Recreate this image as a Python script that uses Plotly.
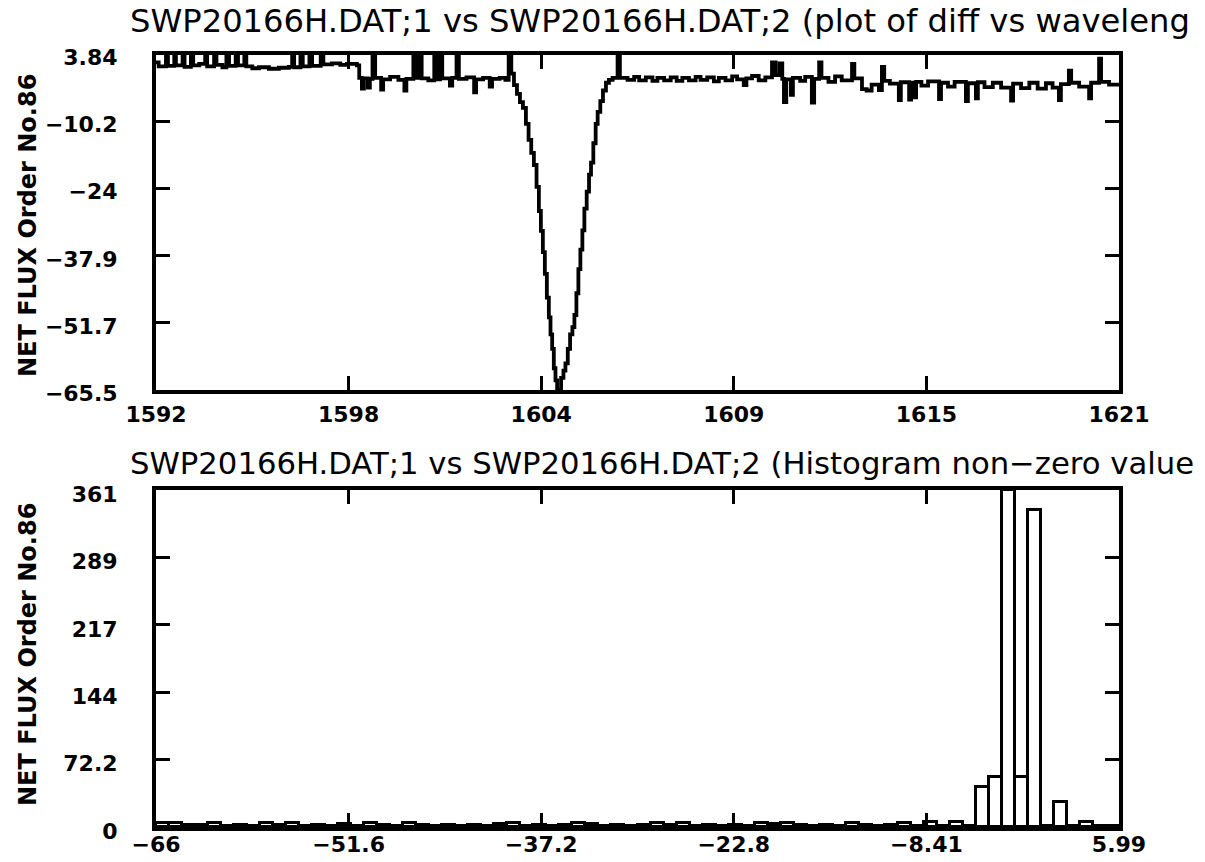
import numpy as np
import plotly.graph_objects as go

# ---------------- upper panel: difference vs wavelength ----------------
wave = [
    1592.00, 1592.08, 1592.30, 1592.36, 1592.55, 1592.60, 1592.80, 1592.86, 1593.05, 1593.12,
    1593.30, 1593.48, 1593.54, 1593.75, 1593.82, 1594.00, 1594.12, 1594.20, 1594.40, 1594.47,
    1594.66, 1594.72, 1594.90, 1595.10, 1595.40, 1595.70, 1596.00, 1596.10, 1596.16, 1596.35,
    1596.42, 1596.62, 1596.70, 1596.96, 1597.04, 1597.30, 1597.55, 1597.75, 1598.05,
    1598.12, 1598.20, 1598.26, 1598.38, 1598.44, 1598.52, 1598.60, 1598.78, 1598.84, 1599.05,
    1599.30, 1599.48, 1599.54, 1599.75, 1599.82, 1599.92, 1600.00, 1600.20, 1600.38, 1600.45,
    1600.55, 1600.62, 1600.85, 1600.92, 1601.05, 1601.12, 1601.35, 1601.58, 1601.64, 1601.85,
    1602.05, 1602.12, 1602.35, 1602.52, 1602.62, 1602.70,
    1602.78, 1602.87, 1602.96, 1603.05, 1603.14, 1603.22, 1603.30, 1603.38, 1603.46, 1603.53,
    1603.59, 1603.65, 1603.71, 1603.77, 1603.83, 1603.88, 1603.93, 1603.98, 1604.03, 1604.08,
    1604.14, 1604.20, 1604.27, 1604.33, 1604.40, 1604.47, 1604.54, 1604.60, 1604.66, 1604.72,
    1604.78, 1604.84, 1604.90, 1604.97, 1605.04, 1605.10, 1605.17, 1605.24, 1605.30, 1605.38,
    1605.46, 1605.55, 1605.64, 1605.75, 1605.90, 1605.97,
    1606.20, 1606.40, 1606.55, 1606.75, 1606.95, 1607.10, 1607.30, 1607.50, 1607.68, 1607.85,
    1608.05, 1608.25, 1608.40, 1608.60, 1608.80, 1608.95, 1609.15, 1609.35, 1609.50, 1609.70,
    1609.78, 1609.95, 1610.15, 1610.35, 1610.55, 1610.66, 1610.78, 1610.86, 1610.91, 1610.98,
    1611.12, 1611.18, 1611.40, 1611.55, 1611.75, 1611.82, 1611.97, 1612.04, 1612.25, 1612.45,
    1612.65, 1612.96, 1613.03, 1613.26, 1613.40, 1613.55, 1613.77, 1613.86, 1613.93, 1614.10,
    1614.37, 1614.43, 1614.68, 1614.74, 1614.83, 1614.89, 1615.05, 1615.25, 1615.58, 1615.64,
    1615.85, 1616.05, 1616.39, 1616.45, 1616.69, 1616.75, 1616.95, 1617.20, 1617.45, 1617.75,
    1617.81, 1618.05, 1618.30, 1618.55, 1618.80, 1619.00, 1619.19, 1619.25, 1619.49, 1619.56,
    1619.80, 1620.10, 1620.16, 1620.40, 1620.46, 1620.70, 1621.00,
]
diff = [
    2.2, 1.4, 3.6, 1.5, 3.7, 1.6, 3.5, 1.3, 3.7, 1.6,
    1.9, 3.6, 1.4, 3.8, 1.7, 1.2, 3.6, 1.5, 3.7, 1.6,
    3.5, 1.4, 1.0, 1.2, 0.9, 1.1, 1.3, 3.7, 1.2, 3.6,
    1.4, 3.8, 1.5, 3.84, 1.8, 2.0, 1.7, 1.9, 1.6,
    -1.0, -3.2, -1.1, -3.0, -1.2, 3.84, -1.0, -3.4, -1.3, -0.8,
    -1.4, -3.6, -1.2, 3.84, -1.0, 3.7, -1.1, -1.5, 3.84, -1.3,
    3.6, -1.1, -2.6, -1.0, 3.84, -1.2, -0.9, -4.0, -1.3, -1.0,
    -2.8, -1.2, -1.0, -1.4, 3.6, -0.1,
    -2.5, -4.3, -6.0, -7.2, -10.5, -13.8, -16.5, -19.0, -23.5, -28.5,
    -32.6, -37.0, -41.5, -46.4, -50.5, -54.0, -57.0, -61.0, -63.5, -65.5,
    -65.5, -63.0, -61.5, -60.0, -57.0, -54.0, -52.5, -50.0, -45.5, -40.5,
    -36.5, -32.5, -28.0, -24.5, -21.0, -18.5, -14.5, -10.5, -8.0, -5.8,
    -3.6, -2.0, -1.4, -1.0, 3.84, -1.0,
    -1.4, -0.8, -1.5, -0.9, -1.6, -1.0, -1.5, -0.9, -1.6, -1.0,
    -1.5, -0.8, -1.4, -0.9, -1.7, -1.0, -1.5, -0.7, -1.3, -2.5,
    -1.1, -0.6, -1.5, -0.9, 2.2, -0.4, 2.0, -1.2, -6.0, -1.3,
    -4.5, -1.0, -1.6, -0.8, -6.1, -1.2, 2.2, -1.0, -1.8, -0.7,
    -1.5, 1.9, -1.1, -3.3, -3.6, -2.4, -3.5, 1.3, -1.6, -2.2,
    -5.6, -1.9, -5.5, -2.0, -5.0, -1.8, -2.6, -1.7, -5.4, -2.0,
    -2.8, -1.8, -5.8, -2.1, -5.2, -1.9, -2.9, -2.0, -3.0, -5.7,
    -2.2, -3.1, -2.0, -3.2, -2.1, -3.0, -5.6, -2.3, 0.5, -2.0,
    -2.8, -5.2, -2.0, 3.0, -1.8, -2.4, -2.0,
]

wave_ticks = [1592.0, 1597.8, 1603.6, 1609.4, 1615.2, 1621.0]
wave_labels = ["1592", "1598", "1604", "1609", "1615", "1621"]
diff_ticks = [-65.5, -51.632, -37.764, -23.896, -10.028, 3.84]
diff_labels = ["\u221265.5", "\u221251.7", "\u221237.9", "\u221224", "\u221210.2", "3.84"]

# ---------------- lower panel: histogram of non-zero differences ----------------
hist_lo, hist_hi = -66.0, 5.99
hist_counts = [
    4, 4, 2, 2, 4, 1, 2, 1, 4, 2,
    4, 1, 2, 1, 3, 1, 4, 2, 1, 4,
    2, 1, 2, 1, 2, 1, 3, 4, 1, 2,
    1, 2, 4, 3, 1, 2, 1, 2, 4, 2,
    4, 1, 2, 1, 2, 1, 4, 3, 4, 2,
    1, 2, 1, 4, 2, 1, 2, 4, 1, 5,
    1, 5, 1, 43, 54, 361, 54, 340, 1, 27,
    1, 5, 1, 1,
]
hist_ticks = [-66.0, -51.602, -37.204, -22.806, -8.408, 5.99]
hist_labels = ["\u221266", "\u221251.6", "\u221237.2", "\u221222.8", "\u22128.41", "5.99"]
count_ticks = [0, 72.2, 144.4, 216.6, 288.8, 361]
count_labels = ["0", "72.2", "144", "217", "289", "361"]

n_bins = len(hist_counts)
bin_w = (hist_hi - hist_lo) / n_bins
bin_centers = hist_lo + bin_w * (np.arange(n_bins) + 0.5)

W, H = 1205, 862
FONT = "DejaVu Sans"


def px_x(p):
    return p / W


def px_y(p):
    return 1 - p / H


fig = go.Figure()

fig.add_trace(go.Scatter(
    x=wave, y=diff, mode="lines", line=dict(color="black", width=3.8, shape="hv"),
    xaxis="x", yaxis="y", showlegend=False,
))

fig.add_trace(go.Bar(
    x=bin_centers, y=hist_counts, width=bin_w,
    marker=dict(color="white", line=dict(color="black", width=3)),
    xaxis="x2", yaxis="y2", showlegend=False,
))

axis_common = dict(
    showline=True, linecolor="black", linewidth=4, mirror="ticks",
    ticks="inside", ticklen=14, tickwidth=3, tickcolor="black",
    showgrid=False, zeroline=False, automargin=False,
    tickfont=dict(family=FONT, size=22, color="black", weight="bold"),
)

x_dom = [px_x(156), px_x(1119)]

fig.update_layout(
    width=W, height=H,
    margin=dict(l=0, r=0, t=0, b=0, pad=0),
    paper_bgcolor="white", plot_bgcolor="white",
    bargap=0,
    xaxis=dict(domain=x_dom, anchor="y", range=[1592, 1621],
               tickvals=wave_ticks, ticktext=wave_labels, ticklabelstandoff=2, **axis_common),
    yaxis=dict(domain=[px_y(390), px_y(54.5)], anchor="x", range=[-65.5, 3.84],
               tickvals=diff_ticks, ticktext=diff_labels, ticklabelstandoff=30,
               ticklabelshift=3, **axis_common),
    xaxis2=dict(domain=x_dom, anchor="y2", range=[hist_lo, hist_hi],
                tickvals=hist_ticks, ticktext=hist_labels, ticklabelstandoff=-5, **axis_common),
    yaxis2=dict(domain=[px_y(827), px_y(490)], anchor="x2", range=[0, 361],
                tickvals=count_ticks, ticktext=count_labels, ticklabelstandoff=30,
                ticklabelshift=4, **axis_common),
)

ylab_font = dict(family=FONT, size=24, color="black", weight="bold")

fig.add_annotation(
    text="SWP20166H.DAT;1 vs SWP20166H.DAT;2 (plot of diff vs waveleng",
    xref="paper", yref="paper", x=px_x(128), y=px_y(0),
    xanchor="left", yanchor="top", showarrow=False,
    font=dict(family=FONT, size=32.2, color="black"),
)
fig.add_annotation(
    text="SWP20166H.DAT;1 vs SWP20166H.DAT;2 (Histogram non\u2212zero value",
    xref="paper", yref="paper", x=px_x(128), y=px_y(444),
    xanchor="left", yanchor="top", showarrow=False,
    font=dict(family=FONT, size=30.7, color="black"),
)
for yc in (226, 655):
    fig.add_annotation(
        text="NET FLUX Order No.86",
        xref="paper", yref="paper", x=px_x(28), y=px_y(yc),
        xanchor="center", yanchor="middle", textangle=-90, showarrow=False, font=ylab_font,
    )

fig.write_html("out.html")
